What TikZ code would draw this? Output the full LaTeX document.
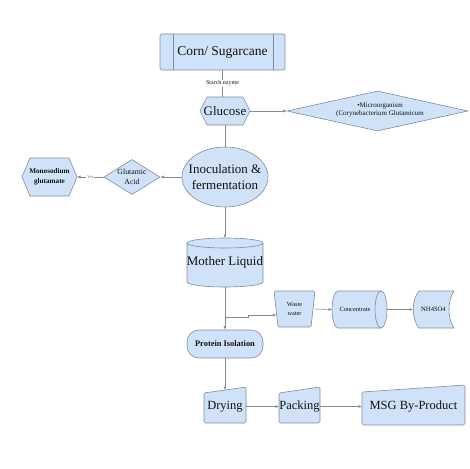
\documentclass[tikz,border=0pt]{standalone}
\usepackage{fontspec}
\setmainfont{Liberation Serif}
\usetikzlibrary{shapes.geometric,arrows.meta}
\definecolor{fillb}{HTML}{D0E2F8}
\definecolor{edgeb}{HTML}{7D8CA3}
\definecolor{linec}{HTML}{8A8A8A}
\definecolor{txt}{HTML}{111111}
\newcommand{\fs}[2]{\fontsize{#1}{#2}\selectfont}
\begin{document}
\begin{tikzpicture}[x=1pt,y=-1pt,
  shp/.style={fill=fillb,draw=edgeb,line width=0.6pt},
  anc/.style={inner sep=0pt,outer sep=0pt,align=center,text=txt},
  conn/.style={draw=linec,line width=0.6pt},
  arr/.style={conn,-{Latex[length=3.5pt,width=3pt]}},
  lab/.style={fill=white,inner sep=0.8pt,text=txt}]
\useasboundingbox (0,0) rectangle (470,468);
% Corn / Sugarcane
\draw[shp,rounded corners=2pt] (160,34) rectangle (285,70);
\draw[draw=edgeb,line width=0.6pt] (173,34)--(173,70) (273,34)--(273,70);
\node[anc,minimum width=125pt,minimum height=36pt,font=\fs{13.5}{15}] (corn) at (222.5,52) {Corn/ Sugarcane};
% Glucose
\draw[shp] (200,111)--(207,97)--(243,97)--(250,111)--(243,125)--(207,125)--cycle;
\node[anc,minimum width=50pt,minimum height=28pt,font=\fs{13}{14}] (glu) at (225,111) {Glucose};
% Microorganism diamond
\node[shp,diamond,minimum width=181pt,minimum height=40pt,inner sep=0pt] (micro) at (377.5,111) {};
\node[anc,font=\fs{7}{8.5}] (microt) at (380,110) {•Microorganism\\(Corynebacterium Glutamicum};
% Inoculation
\node[shp,ellipse,minimum width=86pt,minimum height=60pt,inner sep=0pt] (inoc) at (225,177) {};
\node[anc,font=\fs{13}{16}] (inoct) at (225,177) {Inoculation \&\\fermentation};
% Glutamic acid
\node[shp,diamond,minimum width=56pt,minimum height=35pt,inner sep=0pt] (glut) at (132,177) {};
\node[anc,font=\fs{7.8}{10}] (glutt) at (132,177) {Glutamic\\Acid};
% Monosodium glutamate
\draw[shp] (22,177)--(30,158)--(69,158)--(77,177)--(69,196)--(30,196)--cycle;
\node[anc,minimum width=55pt,minimum height=38pt,font=\bfseries\fs{7.2}{9.5}] (mono) at (49.5,177) {Monosodium\\glutamate};
% Mother liquid
\path[shp] (187,243)--(187,282) arc[start angle=180,end angle=0,x radius=38,y radius=5]--(263,243) arc[start angle=0,end angle=-180,x radius=38,y radius=5]--cycle;
\draw[draw=edgeb,line width=0.6pt] (187,243) arc[start angle=180,end angle=0,x radius=38,y radius=5];
\node[anc,minimum width=76pt,minimum height=49pt,font=\fs{13}{14}] (ml) at (225,262.5) {\raisebox{-3pt}{Mother Liquid}};
% Protein isolation
\node[shp,rounded corners=12pt,minimum width=76pt,minimum height=28pt,inner sep=0pt,font=\bfseries\fs{8.4}{10},text=txt] (prot) at (225,344) {Protein Isolation};
% Waste water
\draw[shp,rounded corners=1.5pt] (274,291)--(315,291)--(311,327)--(278,327)--cycle;
\node[anc,minimum width=41pt,minimum height=36pt,font=\fs{6.3}{9}] (waste) at (294.5,309) {Waste\\water};
% Concentrate
\path[shp] (338,291)--(381,291) arc[start angle=-90,end angle=90,x radius=6,y radius=18.5]--(338,328) arc[start angle=90,end angle=270,x radius=6,y radius=18.5]--cycle;
\draw[draw=edgeb,line width=0.6pt] (381,291) arc[start angle=-90,end angle=-270,x radius=6,y radius=18.5];
\node[anc,minimum width=55pt,minimum height=37pt] (conc) at (359.5,309.5) {};
\node[anc,font=\fs{6.4}{8}] (conct) at (355,309.5) {Concentrate};
% NH4SO4
\draw[shp] (419,291)--(454,291) .. controls (447.3,300) and (447.3,319) .. (454,328)--(419,328) .. controls (411.3,319) and (411.3,300) .. (419,291)--cycle;
\node[anc,minimum width=41pt,minimum height=37pt,font=\fs{6.6}{8}] (nh) at (433.5,309.5) {NH4SO4};
% Drying, Packing, MSG
\draw[shp,rounded corners=1.5pt] (204,393)--(246,387)--(246,423)--(204,423)--cycle;
\node[anc,minimum width=42pt,minimum height=33pt,font=\fs{12.5}{14}] (dry) at (225,406.5) {Drying};
\draw[shp,rounded corners=1.5pt] (279,393)--(320,387)--(320,423)--(279,423)--cycle;
\node[anc,minimum width=41pt,minimum height=33pt,font=\fs{12.5}{14}] (pack) at (299.5,406.5) {Packing};
\draw[shp,rounded corners=1.5pt] (362,392)--(465,385)--(465,425)--(362,425)--cycle;
\node[anc,minimum width=103pt,minimum height=33pt,font=\fs{12.5}{14}] (msg) at (413.5,406.5) {MSG By-Product};
% connectors
\draw[conn] (corn.south) -- node[lab,font=\fs{6}{7}] (starch) {Starch nzyme} (corn.south |- glu.north);
\draw[arr] (glu.east) -- (micro.west);
\draw[conn] (glu.south) -- (inoc.north);
\draw[arr] (inoc.west) -- (glut.east);
\draw[arr] (glut.west) -- node[lab,font=\fs{4.5}{5},text=gray] (yes) {Yes} (mono.east);
\draw[arr] (inoc.south) -- (ml.north);
\draw[arr] (ml.south) -- (prot.north);
\coordinate (br) at (225,317);
\coordinate (wwin) at (276.5,315);
\draw[arr] (br) -- (248,317) |- (wwin);
\draw[arr] (waste.east) -- (conc.west);
\draw[arr] (conc.east) -- (nh.west);
\draw[arr] (prot.south) -- (dry.north);
\draw[arr] (dry.east) -- (pack.west);
\draw[arr] (pack.east) -- (msg.west);
\end{tikzpicture}
\end{document}
